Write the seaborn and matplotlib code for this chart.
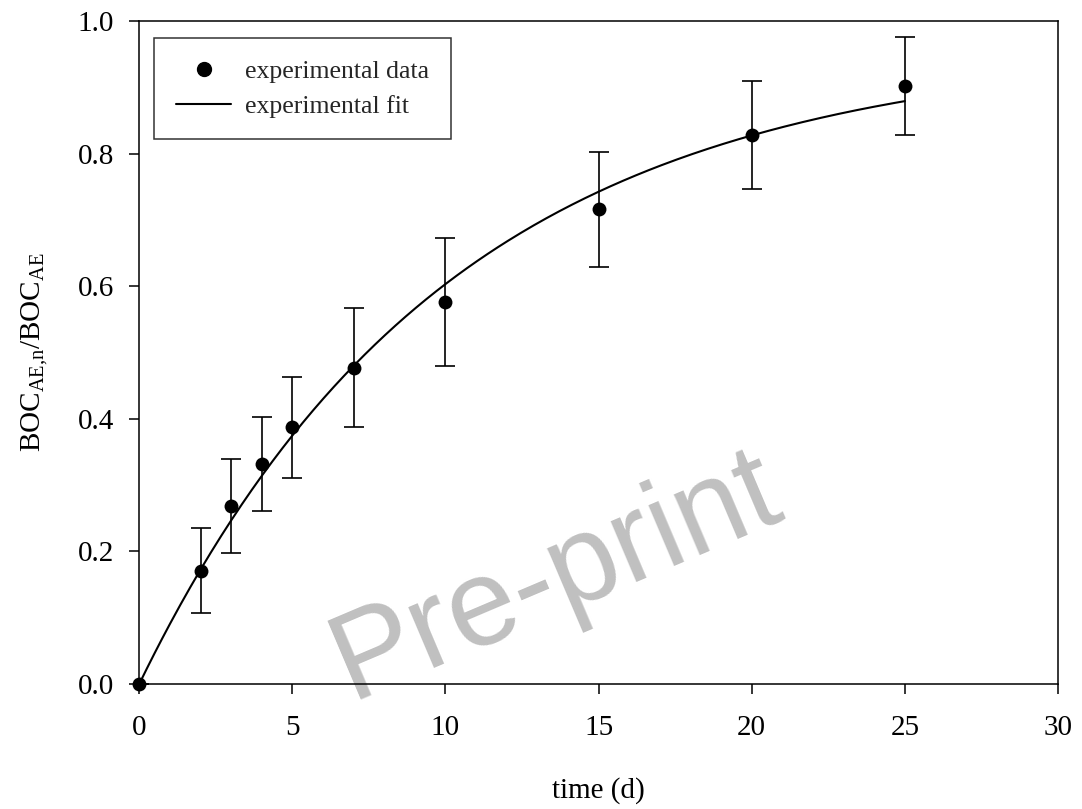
import numpy as np
import pandas as pd
import matplotlib
matplotlib.use("Agg")
import matplotlib.pyplot as plt
import seaborn as sns
from matplotlib.lines import Line2D

# Measured normalised BOC over time (mean and standard deviation)
time_d = [0, 2, 3, 4, 5, 7, 10, 15, 20, 25]
boc_ratio = [0.0, 0.171, 0.269, 0.332, 0.387, 0.477, 0.576, 0.716, 0.828, 0.902]
boc_err = [0.0, 0.064, 0.071, 0.071, 0.076, 0.090, 0.096, 0.087, 0.082, 0.074]

# First-order fit parameters: y = a * (1 - exp(-k t))
fit_a = 0.96
fit_k = 0.099
fit_t_end = 25

x_ticks = [0, 5, 10, 15, 20, 25, 30]
y_ticks = [0.0, 0.2, 0.4, 0.6, 0.8, 1.0]
x_ticklabels = ["0", "5", "10", "15", "20", "25", "30"]
y_ticklabels = ["0.0", "0.2", "0.4", "0.6", "0.8", "1.0"]

sns.set_theme(style="ticks")
plt.rcParams["font.family"] = ["Liberation Serif", "DejaVu Serif"]
plt.rcParams["mathtext.fontset"] = "custom"
plt.rcParams["mathtext.rm"] = "Liberation Serif"
plt.rcParams["mathtext.it"] = "Liberation Serif:italic"
plt.rcParams["mathtext.bf"] = "Liberation Serif:bold"

df = pd.DataFrame({"t": time_d, "y": boc_ratio, "err": boc_err})
t_fit = np.linspace(0, fit_t_end, 300)
fit_df = pd.DataFrame({"t": t_fit, "y": fit_a * (1 - np.exp(-fit_k * t_fit))})

fig = plt.figure(figsize=(10.82, 8.09), dpi=100)
ax = fig.add_axes([0.1287, 0.1545, 0.8491, 0.8195])

# Watermark behind the data
ax.text(0.4536, 0.162, "Pre-print", transform=ax.transAxes, rotation=23,
        ha="center", va="center", fontsize=89, color="#c0c0c0",
        family=["Liberation Sans", "DejaVu Sans"], zorder=0.5, clip_on=False)

sns.lineplot(data=fit_df, x="t", y="y", color="black", linewidth=1.5, ax=ax,
             zorder=2)
ax.errorbar(df["t"], df["y"], yerr=df["err"], fmt="none", ecolor="black",
            elinewidth=1.2, capsize=7, capthick=1.2, zorder=2.5)
sns.scatterplot(data=df, x="t", y="y", color="black", edgecolor="black",
                s=100, linewidth=0, ax=ax, zorder=3, clip_on=False)

ax.set_xlim(0, 30)
ax.set_ylim(0, 1.0)
ax.set_xticks(x_ticks)
ax.set_xticklabels(x_ticklabels)
ax.set_yticks(y_ticks)
ax.set_yticklabels(y_ticklabels)

for side in ["top", "right", "left", "bottom"]:
    ax.spines[side].set_visible(True)
    ax.spines[side].set_linewidth(1.1)
    ax.spines[side].set_color("black")

ax.tick_params(axis="both", direction="out", length=7, width=1.1,
               colors="black", labelsize=21)
ax.tick_params(axis="x", pad=15)
ax.tick_params(axis="y", pad=11)

ax.set_xlabel("time (d)", fontsize=21, labelpad=26, color="black")
ax.set_ylabel(r"BOC$_{\mathrm{AE{,}n}}$/BOC$_{\mathrm{AE}}$", fontsize=21,
              labelpad=20, color="black")

handles = [
    Line2D([], [], marker="o", linestyle="none", color="black", markersize=10),
    Line2D([], [], color="black", linewidth=1.5),
]
leg = ax.legend(handles, ["experimental data", "experimental fit"],
                loc="upper left", bbox_to_anchor=(0.0163, 0.974),
                borderaxespad=0, fontsize=18.5, frameon=True, fancybox=False,
                edgecolor="black", handlelength=2.15, handletextpad=0.55,
                borderpad=0.85, labelspacing=0.45)
leg.get_frame().set_linewidth(1.1)

fig.savefig("out.png", dpi=100)
